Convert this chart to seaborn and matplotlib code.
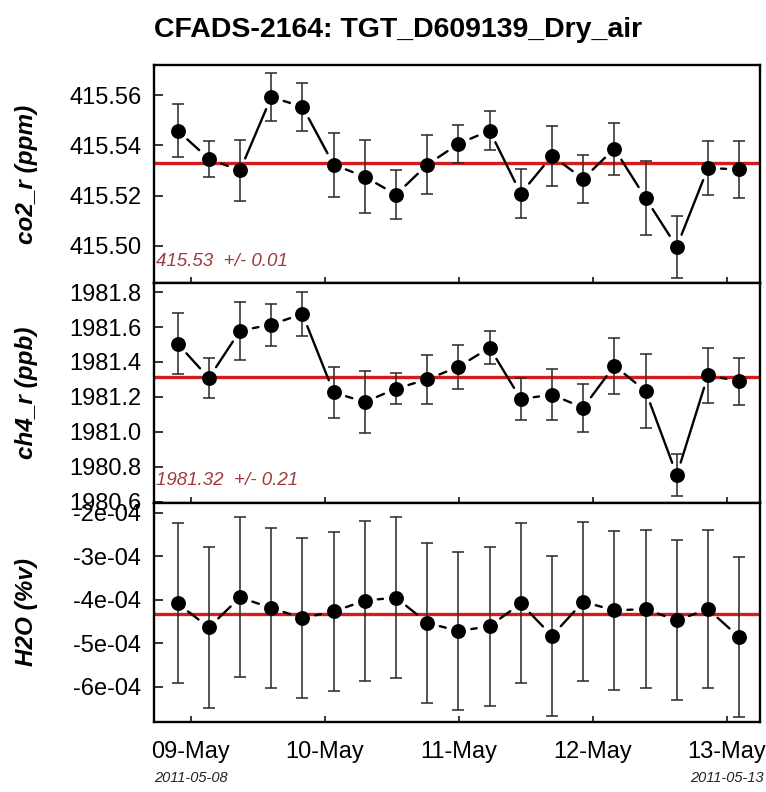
import matplotlib
matplotlib.use("Agg")
import matplotlib.pyplot as plt
import matplotlib.dates as mdates
import matplotlib.ticker as mticker
import numpy as np
import pandas as pd
import seaborn as sns

# ---- data -------------------------------------------------------------
times = [
    "2011-05-08 21:40", "2011-05-09 03:15", "2011-05-09 08:50", "2011-05-09 14:25",
    "2011-05-09 20:00", "2011-05-10 01:35", "2011-05-10 07:10", "2011-05-10 12:45",
    "2011-05-10 18:20", "2011-05-10 23:55", "2011-05-11 05:30", "2011-05-11 11:05",
    "2011-05-11 16:40", "2011-05-11 22:15", "2011-05-12 03:50", "2011-05-12 09:25",
    "2011-05-12 15:00", "2011-05-12 20:35", "2011-05-13 02:10",
]

co2 = [415.5459, 415.5346, 415.5300, 415.5592, 415.5554, 415.5323, 415.5275,
       415.5204, 415.5323, 415.5406, 415.5459, 415.5208, 415.5358, 415.5267,
       415.5387, 415.5190, 415.4996, 415.5310, 415.5304]
co2_err = [0.0104, 0.0072, 0.0122, 0.0095, 0.0096, 0.0128, 0.0146, 0.0096,
           0.0118, 0.0076, 0.0076, 0.0097, 0.0120, 0.0096, 0.0103, 0.0147,
           0.0123, 0.0106, 0.0115]

ch4 = [1981.505, 1981.308, 1981.579, 1981.614, 1981.675, 1981.226, 1981.171,
       1981.247, 1981.301, 1981.372, 1981.482, 1981.188, 1981.213, 1981.138,
       1981.379, 1981.234, 1980.753, 1981.324, 1981.289]
ch4_err = [0.173, 0.113, 0.165, 0.120, 0.125, 0.147, 0.180, 0.089, 0.140,
           0.127, 0.096, 0.120, 0.147, 0.138, 0.161, 0.209, 0.118, 0.158, 0.133]

h2o = [-4.085e-4, -4.637e-4, -3.947e-4, -4.190e-4, -4.420e-4, -4.270e-4,
       -4.020e-4, -3.950e-4, -4.530e-4, -4.720e-4, -4.610e-4, -4.085e-4,
       -4.830e-4, -4.046e-4, -4.245e-4, -4.215e-4, -4.475e-4, -4.215e-4,
       -4.860e-4]
h2o_err = [1.84e-4, 1.84e-4, 1.84e-4, 1.84e-4, 1.84e-4, 1.825e-4, 1.84e-4,
           1.84e-4, 1.84e-4, 1.825e-4, 1.825e-4, 1.84e-4, 1.84e-4, 1.825e-4,
           1.83e-4, 1.825e-4, 1.84e-4, 1.825e-4, 1.84e-4]

title = "CFADS-2164: TGT_D609139_Dry_air"
ylabels = ["co2_r (ppm)", "ch4_r (ppb)", "H2O (%v)"]
co2_ticks = [415.50, 415.52, 415.54, 415.56]
ch4_ticks = [1980.6, 1980.8, 1981.0, 1981.2, 1981.4, 1981.6, 1981.8]
h2o_ticks = [-6e-4, -5e-4, -4e-4, -3e-4, -2e-4]
start_label, end_label = "2011-05-08", "2011-05-13"

# ---- style ------------------------------------------------------------
sns.set_theme(style="white")
plt.rcParams["font.family"] = ["Liberation Sans", "DejaVu Sans"]
RED = "#d41c1c"
NOTE = "#a23a3c"
BAR = "#2e2e2e"

fig = plt.figure(figsize=(7.66, 7.92), dpi=100)
W, H = 766.0, 792.0


def px_box(x0, y0, x1, y1):
    return [x0 / W, 1 - y1 / H, (x1 - x0) / W, (y1 - y0) / H]


ax1 = fig.add_axes(px_box(154, 65, 760, 283))
ax2 = fig.add_axes(px_box(154, 283, 760, 503), sharex=ax1)
ax3 = fig.add_axes(px_box(154, 503, 760, 722), sharex=ax1)

t = pd.to_datetime(times)
tnum = mdates.date2num(t)

panels = [
    (ax1, co2, co2_err, co2_ticks, (415.4852, 415.572), "%.2f", True),
    (ax2, ch4, ch4_err, ch4_ticks, (1980.593, 1981.852), "%.1f", True),
    (ax3, h2o, h2o_err, h2o_ticks, (-6.81e-4, -1.777e-4), "e", False),
]

for ax, vals, errs, ticks, ylim, fmt, note in panels:
    df = pd.DataFrame({"time": t, "value": vals, "err": errs})
    mean = float(np.mean(vals))
    std = float(np.std(vals, ddof=1))

    ax.axhline(mean, color=RED, lw=2.4, zorder=1)

    # segments between successive points, leaving a gap around each symbol
    for i in range(len(vals) - 1):
        ax.annotate("", xy=(tnum[i + 1], vals[i + 1]), xytext=(tnum[i], vals[i]),
                    xycoords="data", textcoords="data",
                    arrowprops=dict(arrowstyle="-", color="black", lw=1.7,
                                    shrinkA=9.4, shrinkB=9.4),
                    zorder=2)

    ax.errorbar(df["time"], df["value"], yerr=df["err"], fmt="none",
                ecolor=BAR, elinewidth=1.15, capsize=4.0, capthick=1.15, zorder=3)
    sns.scatterplot(data=df, x="time", y="value", ax=ax, s=115, color="black",
                    edgecolor="black", linewidth=0, zorder=4)

    ax.set_xlabel("")
    ax.set_ylabel("")
    ax.set_ylim(*ylim)
    ax.set_yticks(ticks)
    if fmt == "e":
        ax.yaxis.set_major_formatter(mticker.FuncFormatter(lambda v, _: f"{v:.0e}"))
    else:
        ax.yaxis.set_major_formatter(mticker.FormatStrFormatter(fmt))

    for s in ax.spines.values():
        s.set_visible(True)
        s.set_color("black")
        s.set_linewidth(1.7)
    ax.tick_params(axis="y", direction="in", length=6.5, width=1.1, pad=9,
                   labelsize=17, colors="black", left=True)
    ax.tick_params(axis="x", direction="in", length=4.5, width=1.1, pad=14,
                   labelsize=17, colors="black", bottom=True)

    if note:
        ax.text(0.003, 0.10, f"{mean:.2f}  +/- {std:.2f}", transform=ax.transAxes,
                ha="left", va="center", color=NOTE, fontsize=13.5, style="italic")

ax1.set_xlim(mdates.date2num(pd.Timestamp("2011-05-08 17:26")),
             mdates.date2num(pd.Timestamp("2011-05-13 05:54")))
ax3.xaxis.set_major_locator(mdates.DayLocator())
ax3.xaxis.set_major_formatter(mdates.DateFormatter("%d-%b"))
ax1.tick_params(axis="x", labelbottom=False)
ax2.tick_params(axis="x", labelbottom=False)

# start / end dates beneath the first and last day ticks
day_ticks = ax3.get_xticks()
blend = matplotlib.transforms.blended_transform_factory(ax3.transData, ax3.transAxes)
ax3.text(day_ticks[0], -0.255, start_label, transform=blend, ha="center", va="center",
         fontsize=10.5, style="italic", color="#222222")
ax3.text(day_ticks[-1], -0.255, end_label, transform=blend, ha="center", va="center",
         fontsize=10.5, style="italic", color="#222222")

# panel labels
for ax, lab in zip([ax1, ax2, ax3], ylabels):
    bb = ax.get_position()
    fig.text(26 / W, bb.y0 + bb.height / 2, lab, rotation=90, ha="center", va="center",
             fontsize=17.5, fontweight="bold", style="italic", color="black")

fig.text(398 / W, 1 - 37 / H, title, ha="center", va="baseline",
         fontsize=20.5, fontweight="bold", color="black")

fig.savefig("out.png", dpi=100, facecolor="white")
